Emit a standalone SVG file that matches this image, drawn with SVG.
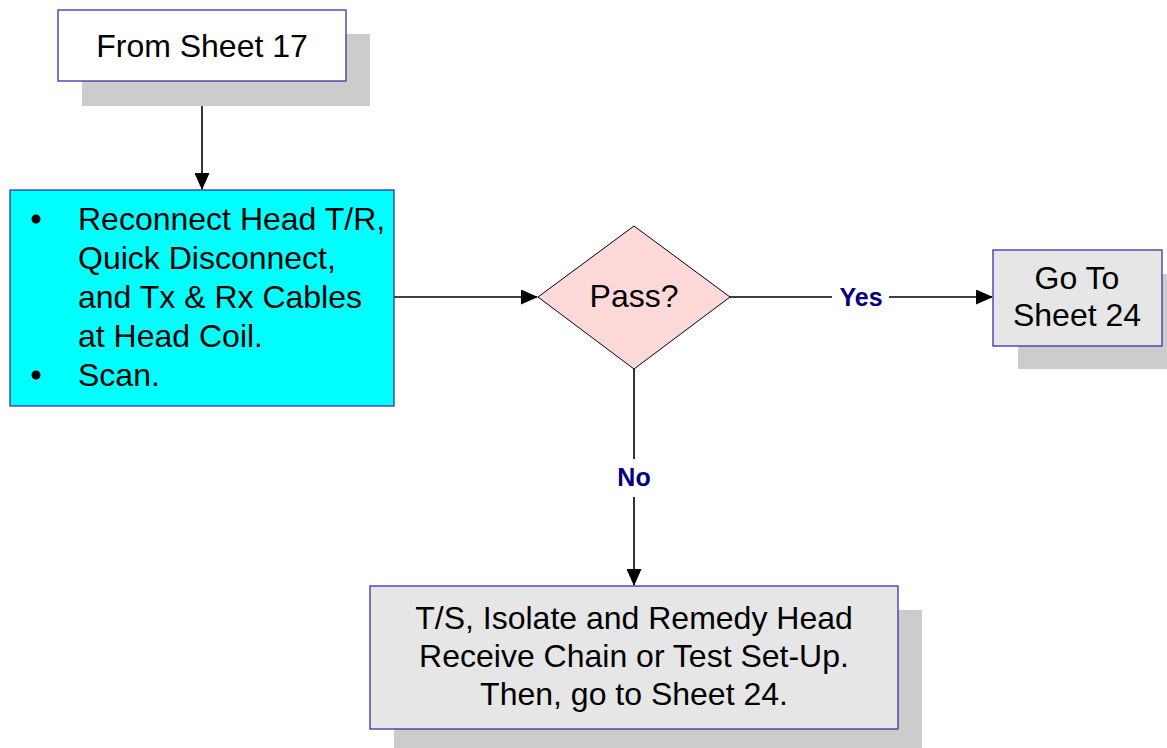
<svg xmlns="http://www.w3.org/2000/svg" width="1167" height="748" viewBox="0 0 1167 748">
  <style>
    .shadow { fill: #cccccc; stroke: none; }
    .box { stroke: #3333aa; stroke-width: 1.3; }
    .grey { fill: #e6e6e6; }
    .txt { font-family: "Liberation Sans", Arial, sans-serif; font-size: 32px; fill: #000000; }
    .mid { text-anchor: middle; }
    .lbl { font-family: "Liberation Sans", Arial, sans-serif; font-size: 25px; font-weight: bold; fill: #000080; text-anchor: middle; }
    .wire { stroke: #000000; stroke-width: 1.6; fill: none; }
  </style>
  <defs>
    <marker id="arrow" markerWidth="17" markerHeight="15" refX="16" refY="7.5" orient="auto" markerUnits="userSpaceOnUse">
      <path d="M0,0 L17,7.5 L0,15 Z" fill="#000000"/>
    </marker>
  </defs>
  <rect width="1167" height="748" fill="#ffffff"/>

  <g id="connectors">
    <line class="wire" x1="202" y1="81" x2="202" y2="189" marker-end="url(#arrow)"/>
    <line class="wire" x1="394" y1="297" x2="537" y2="297" marker-end="url(#arrow)"/>
    <line class="wire" x1="730" y1="297" x2="832" y2="297"/>
    <line class="wire" x1="889" y1="297" x2="992" y2="297" marker-end="url(#arrow)"/>
    <text class="lbl" x="861" y="306">Yes</text>
    <line class="wire" x1="634" y1="369" x2="634" y2="459"/>
    <line class="wire" x1="634" y1="497" x2="634" y2="585" marker-end="url(#arrow)"/>
    <text class="lbl" x="634" y="486">No</text>
  </g>

  <g id="from-sheet-17">
    <rect class="shadow" x="82" y="34" width="288" height="72"/>
    <rect class="box" x="58" y="10" width="288" height="71" fill="#ffffff"/>
    <text class="txt mid" x="202" y="57">From Sheet 17</text>
  </g>

  <g id="reconnect">
    <rect class="box" x="10" y="190" width="384" height="216" fill="#00ffff"/>
    <circle cx="36" cy="219" r="4.5" fill="#000000"/>
    <circle cx="36" cy="375" r="4.5" fill="#000000"/>
    <text class="txt" x="78" y="230">Reconnect Head T/R,</text>
    <text class="txt" x="78" y="269">Quick Disconnect,</text>
    <text class="txt" x="78" y="308">and Tx &amp; Rx Cables</text>
    <text class="txt" x="78" y="347">at Head Coil.</text>
    <text class="txt" x="78" y="386">Scan.</text>
  </g>

  <g id="pass">
    <polygon points="538,297 634,226 730,297 634,369" fill="#ffd9d9" stroke="#000000" stroke-width="1"/>
    <text class="txt mid" x="634" y="307">Pass?</text>
  </g>

  <g id="go-to-sheet-24">
    <rect class="shadow" x="1018" y="274" width="149" height="95"/>
    <rect class="box grey" x="993" y="250" width="169" height="96"/>
    <text class="txt mid" x="1077" y="289">Go To</text>
    <text class="txt mid" x="1077" y="326">Sheet 24</text>
  </g>

  <g id="remedy">
    <rect class="shadow" x="394" y="610" width="528" height="138"/>
    <rect class="box grey" x="370" y="586" width="528" height="143"/>
    <text class="txt mid" x="634" y="629">T/S, Isolate and Remedy Head</text>
    <text class="txt mid" x="634" y="667">Receive Chain or Test Set-Up.</text>
    <text class="txt mid" x="634" y="705">Then, go to Sheet 24.</text>
  </g>
</svg>
